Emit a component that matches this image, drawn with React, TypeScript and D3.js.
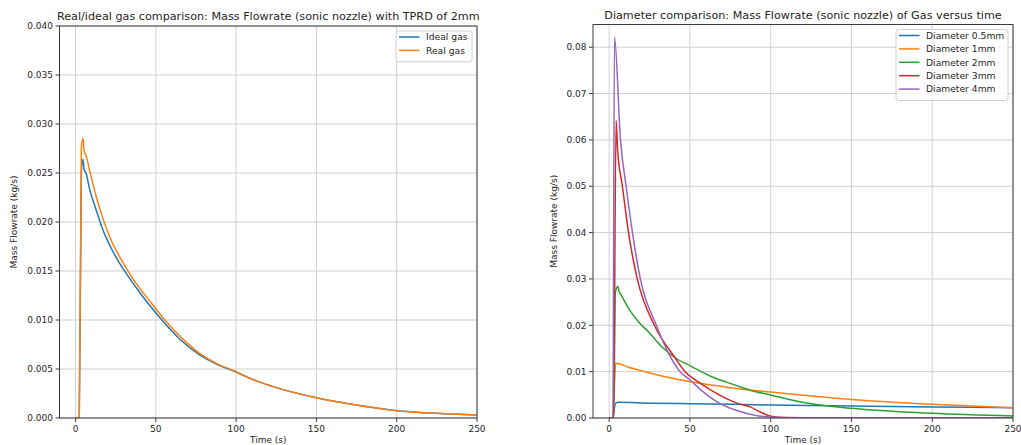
import React from "react";
import * as d3 from "d3";

// ---------- data ----------
const xTicks = [0, 50, 100, 150, 200, 250];
const leftYTicks = [0, 0.005, 0.01, 0.015, 0.02, 0.025, 0.03, 0.035, 0.04];
const rightYTicks = [0, 0.01, 0.02, 0.03, 0.04, 0.05, 0.06, 0.07, 0.08];

// Left panel: real vs ideal gas, TPRD 2mm
const idealTime = [0, 2.3, 3.6, 4.6, 5.4, 6.5, 8.7, 12.9, 17, 21.2, 27.4, 33.7, 40, 46.1, 56.5, 66.9, 77.3, 87.7, 100, 108.5, 123, 150, 171, 200, 225, 250];
const idealFlow = [0, 0, 0.025, 0.0264, 0.0253, 0.025, 0.0234, 0.0212, 0.0192, 0.01765, 0.0158, 0.01425, 0.0128, 0.0115, 0.0095, 0.00775, 0.00643, 0.0055, 0.0047, 0.00405, 0.0032, 0.00207, 0.00143, 0.00075, 0.00048, 0.0003];
const realTime = [0, 2.3, 3.6, 4.6, 5.4, 6.5, 8.7, 12.9, 17, 21.2, 27.4, 35.7, 46.1, 56.5, 66.9, 77.3, 87.7, 100, 108.5, 123, 150, 171, 200, 225, 250];
const realFlow = [0, 0, 0.0275, 0.02854, 0.0272, 0.0268, 0.0253, 0.02258, 0.02037, 0.0185, 0.01646, 0.0142, 0.01195, 0.00983, 0.00805, 0.0066, 0.00558, 0.00473, 0.00405, 0.0032, 0.00207, 0.00143, 0.00075, 0.00048, 0.0003];

// Right panel: diameters
const d05Time = [0, 2.5, 3.7, 5.4, 25, 50, 100, 150, 200, 250];
const d05Flow = [0, 0, 0.003, 0.00338, 0.0032, 0.0031, 0.0028, 0.0026, 0.0024, 0.0022];
const d1Time = [0, 2.5, 3.5, 4.1, 12, 22.3, 32.6, 50.5, 73.8, 100, 150, 200, 250];
const d1Flow = [0, 0, 0.009, 0.0118, 0.01093, 0.00998, 0.00905, 0.0078, 0.0066, 0.0056, 0.004, 0.00295, 0.00222];
const d2Time = [0, 2.8, 3.8, 5.4, 6.2, 6.8, 12, 18.1, 24.3, 32.6, 40.8, 50.5, 63.5, 78, 87.3, 100, 118, 150, 200, 250];
const d2Flow = [0, 0, 0.027, 0.02845, 0.0272, 0.0269, 0.02364, 0.02076, 0.0186, 0.01537, 0.013, 0.0112, 0.0089, 0.0071, 0.006, 0.00496, 0.0035, 0.00208, 0.001, 0.00043];
const d3Time = [0, 2.7, 4.3, 5.2, 8.2, 12, 17.4, 28, 40.8, 47, 54.3, 63.5, 80, 87.3, 94, 100, 110, 130, 250];
const d3Flow = [0, 0, 0.0642, 0.058, 0.05, 0.04, 0.03, 0.02, 0.013, 0.01, 0.008, 0.0059, 0.0031, 0.0024, 0.0012, 0.0004, 0.0001, 0, 0];
const d4Time = [0, 2.3, 3.3, 7, 10.5, 14, 19.5, 29.2, 35.7, 43.9, 50.1, 57.3, 68.7, 80, 90, 100, 110, 130, 250];
const d4Flow = [0, 0, 0.0822, 0.06, 0.05, 0.041, 0.0297, 0.02, 0.0147, 0.01, 0.0082, 0.0059, 0.0031, 0.0015, 0.0006, 0.0002, 0.00005, 0, 0];

const leftSeries = [
  { name: "Ideal gas", color: "#1f77b4", t: idealTime, v: idealFlow },
  { name: "Real gas", color: "#ff7f0e", t: realTime, v: realFlow },
];
const rightSeries = [
  { name: "Diameter 0.5mm", color: "#1f77b4", t: d05Time, v: d05Flow },
  { name: "Diameter 1mm", color: "#ff7f0e", t: d1Time, v: d1Flow },
  { name: "Diameter 2mm", color: "#2ca02c", t: d2Time, v: d2Flow },
  { name: "Diameter 3mm", color: "#d62728", t: d3Time, v: d3Flow },
  { name: "Diameter 4mm", color: "#9467bd", t: d4Time, v: d4Flow },
];

const FONT = "DejaVu Sans";

type Series = { name: string; color: string; t: number[]; v: number[] };

function Panel(props: {
  id: string;
  left: number;
  right: number;
  top: number;
  bottom: number;
  yMax: number;
  yTicks: number[];
  yFmt: string;
  title: string;
  series: Series[];
  legendW: number;
  yLabelX: number;
}) {
  const { id, left, right, top, bottom, yMax, yTicks, yFmt, title, series, legendW, yLabelX } = props;
  const x = d3.scaleLinear().domain([-10, 250]).range([left, right]);
  const y = d3.scaleLinear().domain([0, yMax]).range([bottom, top]);
  const fmt = d3.format(yFmt);
  const line = d3
    .line<[number, number]>()
    .x((d) => x(d[0]))
    .y((d) => y(d[1]))
    .curve(d3.curveMonotoneX);
  const cx = (left + right) / 2;
  const cy = (top + bottom) / 2;
  const legRight = right - 5;
  const legTop = top + 5;
  const rowH = 13.4;
  const legH = series.length * rowH + 4;
  const legLeft = legRight - legendW;
  return (
    <g>
      <defs>
        <clipPath id={id}>
          <rect x={left} y={top - 2} width={right - left} height={bottom - top + 2} />
        </clipPath>
      </defs>
      {/* grid */}
      {xTicks.map((t) => (
        <line key={"gx" + t} x1={x(t)} x2={x(t)} y1={top} y2={bottom} stroke="#d0d0d0" strokeWidth={1} />
      ))}
      {yTicks.map((t) => (
        <line key={"gy" + t} x1={left} x2={right} y1={y(t)} y2={y(t)} stroke="#d0d0d0" strokeWidth={1} />
      ))}
      {/* lines */}
      <g clipPath={`url(#${id})`}>
        {series.map((s) => (
          <path
            key={s.name}
            d={line(s.t.map((t, i) => [t, s.v[i]] as [number, number])) || ""}
            fill="none"
            stroke={s.color}
            strokeWidth={1.5}
            strokeLinejoin="round"
          />
        ))}
      </g>
      {/* spines */}
      <rect x={left} y={top} width={right - left} height={bottom - top} fill="none" stroke="#3a3a3a" strokeWidth={1} />
      {/* x ticks */}
      {xTicks.map((t) => (
        <g key={"xt" + t}>
          <line x1={x(t)} x2={x(t)} y1={bottom} y2={bottom + 4} stroke="#3a3a3a" />
          <text x={x(t)} y={bottom + 14} textAnchor="middle" fontSize={9} fontFamily={FONT} fill="#262626">
            {t}
          </text>
        </g>
      ))}
      {/* y ticks */}
      {yTicks.map((t) => (
        <g key={"yt" + t}>
          <line x1={left - 4} x2={left} y1={y(t)} y2={y(t)} stroke="#3a3a3a" />
          <text x={left - 6.5} y={y(t) + 3.2} textAnchor="end" fontSize={9} fontFamily={FONT} fill="#262626">
            {fmt(t)}
          </text>
        </g>
      ))}
      {/* labels */}
      <text x={cx} y={443} textAnchor="middle" fontSize={9} fontFamily={FONT} fill="#262626">
        Time (s)
      </text>
      <text
        transform={`translate(${yLabelX},${cy}) rotate(-90)`}
        textAnchor="middle"
        fontSize={9}
        fontFamily={FONT}
        fill="#262626"
      >
        Mass Flowrate (kg/s)
      </text>
      <text x={cx} y={top - 6} textAnchor="middle" fontSize={11.2} fontFamily={FONT} fill="#262626">
        {title}
      </text>
      {/* legend */}
      <rect x={legLeft} y={legTop} width={legendW} height={legH} rx={2.5} fill="white" fillOpacity={0.8} stroke="#d0d0d0" />
      {series.map((s, i) => {
        const ly = legTop + 6 + i * rowH;
        return (
          <g key={"lg" + s.name}>
            <line x1={legLeft + 3} x2={legLeft + 23.5} y1={ly} y2={ly} stroke={s.color} strokeWidth={1.5} />
            <text x={legLeft + 30} y={ly + 3.3} fontSize={9.2} fontFamily={FONT} fill="#262626">
              {s.name}
            </text>
          </g>
        );
      })}
    </g>
  );
}

export default function App() {
  return (
    <svg
      width={1021}
      height={445}
      style={{ position: "absolute", left: 0, top: 0, background: "white" }}
      xmlns="http://www.w3.org/2000/svg"
    >
      <rect width={1021} height={445} fill="white" />
      <Panel
        id="clipL"
        left={59.5}
        right={477}
        top={26}
        bottom={418}
        yMax={0.04}
        yTicks={leftYTicks}
        yFmt=".3f"
        title="Real/ideal gas comparison: Mass Flowrate (sonic nozzle) with TPRD of 2mm"
        series={leftSeries}
        legendW={76}
        yLabelX={17}
      />
      <Panel
        id="clipR"
        left={593}
        right={1013}
        top={24.5}
        bottom={418}
        yMax={0.0849}
        yTicks={rightYTicks}
        yFmt=".2f"
        title="Diameter comparison: Mass Flowrate (sonic nozzle) of Gas versus time"
        series={rightSeries}
        legendW={112}
        yLabelX={557}
      />
    </svg>
  );
}
